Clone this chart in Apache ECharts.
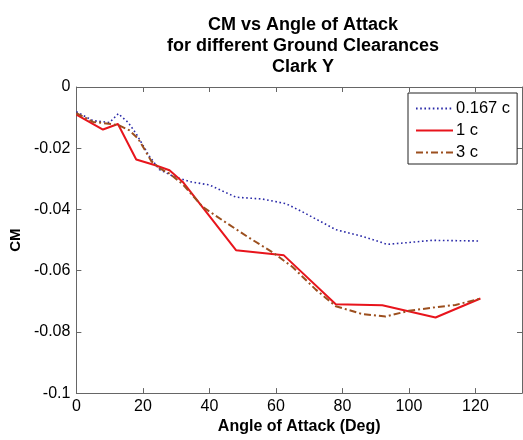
<!DOCTYPE html>
<html>
<head>
<meta charset="utf-8">
<script src="https://cdn.jsdelivr.net/npm/echarts@6/dist/echarts.min.js"></script>
<style>
html,body{margin:0;padding:0;background:#fff;}
#chart{width:523px;height:440px;}
</style>
</head>
<body>
<div id="chart"></div>
<script>
// ---- Data ----
const titleLines = ['CM vs Angle of Attack', 'for different Ground Clearances', 'Clark Y'];
const xAxisName = 'Angle of Attack (Deg)';
const yAxisName = 'CM';
const seriesNames = ['0.167 c', '1 c', '3 c'];

const aoa_0167 = [0, 5, 10, 12.6, 15.6, 18, 22, 25, 29, 34, 40, 48, 56, 63, 68, 78, 86, 93.5, 100, 107, 114, 121];
const cm_0167  = [-0.0081, -0.011, -0.0116, -0.0087, -0.0116, -0.0153, -0.0227, -0.027, -0.0291, -0.0309, -0.032, -0.036, -0.0366, -0.0381, -0.0408, -0.0466, -0.0488, -0.0514, -0.0508, -0.0501, -0.0502, -0.0503];

const aoa_1 = [0, 8, 12.5, 18, 23.5, 28, 32, 48, 62.4, 78, 92, 108, 121.5];
const cm_1  = [-0.009, -0.0139, -0.0121, -0.0237, -0.0255, -0.0272, -0.031, -0.0533, -0.055, -0.071, -0.0713, -0.0753, -0.0691];

const aoa_3 = [0, 5, 10.5, 13, 16, 18.6, 22.6, 25, 28, 32, 38, 45, 52, 59, 65, 72, 78, 86, 93, 100, 107, 114, 121.5];
const cm_3  = [-0.0085, -0.0114, -0.0121, -0.0126, -0.0142, -0.0169, -0.0243, -0.0265, -0.0283, -0.0318, -0.0392, -0.0443, -0.0493, -0.054, -0.0588, -0.0662, -0.0716, -0.0742, -0.075, -0.0731, -0.0721, -0.0712, -0.0691];

const xMin = 0, xMax = 134, xStep = 20;
const yMin = -0.1, yMax = 0, yStep = 0.02;

// ---- Chart ----
const FONT = '"Liberation Sans", Arial, sans-serif';
const AXIS_COLOR = '#666';
function pairs(xs, ys) { return xs.map((x, i) => [x, ys[i]]); }

const chart = echarts.init(document.getElementById('chart'), null, {renderer: 'canvas'});
const axisCommon = {
  axisLine: {show: true, onZero: false, lineStyle: {color: AXIS_COLOR, width: 1}},
  axisTick: {show: true, inside: true, length: 5, lineStyle: {color: AXIS_COLOR}},
  splitLine: {show: false}
};
chart.setOption({
  backgroundColor: '#fff',
  animation: false,
  title: {
    text: titleLines.join('\n'),
    left: 298, top: 10, textAlign: 'center',
    textStyle: {fontFamily: FONT, fontSize: 18, fontWeight: 'bold', lineHeight: 21, color: '#000'}
  },
  legend: {
    orient: 'vertical', left: 408, top: 93,
    padding: [7, 7, 3, 7],
    itemWidth: 37, itemHeight: 14, itemGap: 5,
    borderColor: '#222', borderWidth: 1, backgroundColor: '#fff',
    itemStyle: {opacity: 0},
    textStyle: {fontFamily: FONT, fontSize: 16.5, color: '#000', padding: [0, 0, 0, -2]},
    data: seriesNames
  },
  grid: {left: 73, top: 87, right: 1, bottom: 39, containLabel: false},
  xAxis: [
    Object.assign({
      type: 'value', position: 'bottom', min: xMin, max: xMax, interval: xStep,
      name: xAxisName, nameLocation: 'middle', nameGap: 23,
      nameTextStyle: {fontFamily: FONT, fontSize: 16, fontWeight: 'bold', color: '#000'},
      axisLabel: {fontFamily: FONT, fontSize: 16, color: '#000', margin: 5, showMaxLabel: false}
    }, axisCommon),
    Object.assign({
      type: 'value', position: 'top', min: xMin, max: xMax, interval: xStep,
      axisLabel: {show: false}
    }, axisCommon)
  ],
  yAxis: [
    Object.assign({
      type: 'value', position: 'left', min: yMin, max: yMax, interval: yStep,
      name: yAxisName, nameLocation: 'middle', nameGap: 50,
      nameTextStyle: {fontFamily: FONT, fontSize: 15, fontWeight: 'bold', color: '#000'},
      axisLabel: {fontFamily: FONT, fontSize: 16, color: '#000', margin: 6,
        formatter: v => String(parseFloat(Number(v).toFixed(3)))}
    }, axisCommon),
    Object.assign({
      type: 'value', position: 'right', min: yMin, max: yMax, interval: yStep,
      axisLabel: {show: false}
    }, axisCommon)
  ],
  series: [
    {
      name: seriesNames[0], type: 'line', symbol: 'none', xAxisIndex: 0, yAxisIndex: 0,
      data: pairs(aoa_0167, cm_0167),
      lineStyle: {color: '#2a2aa8', width: 1.6, type: [1.6, 2.6], cap: 'butt'},
      itemStyle: {color: '#2a2aa8'}
    },
    {
      name: seriesNames[1], type: 'line', symbol: 'none', xAxisIndex: 0, yAxisIndex: 0,
      data: pairs(aoa_1, cm_1),
      lineStyle: {color: '#e8141c', width: 2, type: 'solid'},
      itemStyle: {color: '#e8141c'}
    },
    {
      name: seriesNames[2], type: 'line', symbol: 'none', xAxisIndex: 0, yAxisIndex: 0,
      data: pairs(aoa_3, cm_3),
      lineStyle: {color: '#9c4f1e', width: 2, type: [7, 3, 2, 3]},
      itemStyle: {color: '#9c4f1e'}
    }
  ]
});
</script>
</body>
</html>
